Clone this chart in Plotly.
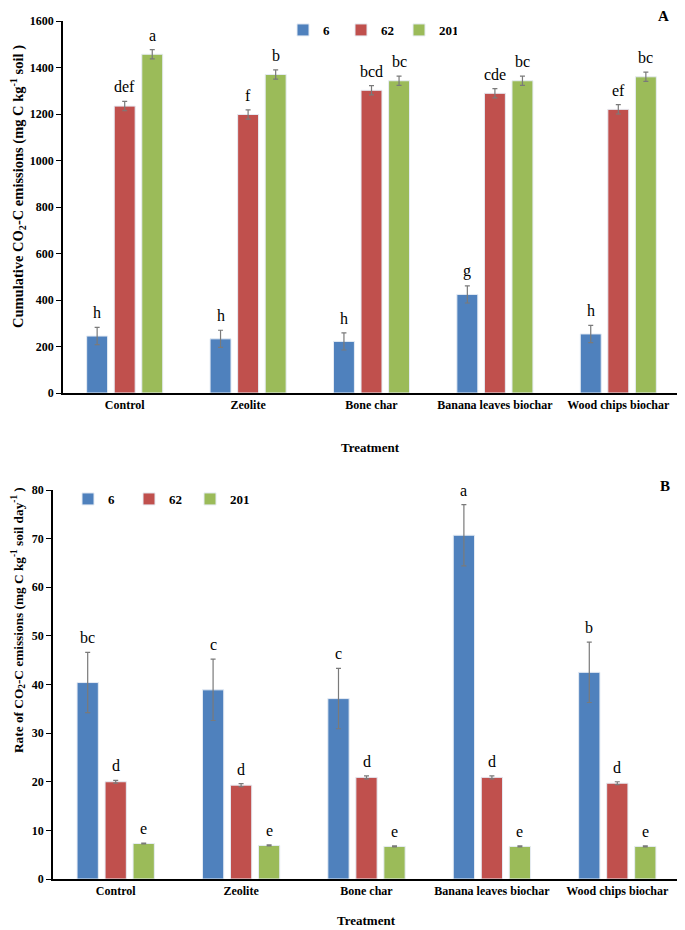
import plotly.graph_objects as go

# Data
treatments = ["Control", "Zeolite", "Bone char", "Banana leaves biochar", "Wood chips biochar"]
days = ["6", "62", "201"]

cum_6 = [245, 233, 222, 424, 254]
cum_62 = [1234, 1198, 1302, 1289, 1220]
cum_201 = [1457, 1370, 1343, 1343, 1360]
cum_err_6 = [37, 37, 37, 37, 37]
cum_err_62 = [20, 20, 20, 20, 20]
cum_err_201 = [20, 20, 20, 20, 20]
cum_letters_6 = ["h", "h", "h", "g", "h"]
cum_letters_62 = ["def", "f", "bcd", "cde", "ef"]
cum_letters_201 = ["a", "b", "bc", "bc", "bc"]

rate_6 = [40.4, 38.9, 37.1, 70.7, 42.5]
rate_62 = [20.0, 19.3, 20.9, 20.9, 19.7]
rate_201 = [7.3, 6.9, 6.7, 6.7, 6.7]
rate_err_6 = [6.2, 6.3, 6.2, 6.3, 6.2]
rate_err_62 = [0.3, 0.3, 0.3, 0.3, 0.3]
rate_err_201 = [0.1, 0.1, 0.1, 0.1, 0.1]
rate_letters_6 = ["bc", "c", "c", "a", "b"]
rate_letters_62 = ["d", "d", "d", "d", "d"]
rate_letters_201 = ["e", "e", "e", "e", "e"]

COLORS = ["#4F81BD", "#C0504D", "#9BBB59"]
ERR_COLOR = "#7a7a7a"
SERIF = "Liberation Serif, Times New Roman, serif"
PAGE_PAD = 8  # the page body margin offsets the figure
W, H = 685 - PAGE_PAD, 930 - PAGE_PAD
BARGAP = 0.33


def px(x):
    return (x - PAGE_PAD) / W


def py(y):
    return 1 - (y - PAGE_PAD) / H


fig = go.Figure()

top_sets = [
    (cum_6, cum_err_6, cum_letters_6),
    (cum_62, cum_err_62, cum_letters_62),
    (cum_201, cum_err_201, cum_letters_201),
]
bot_sets = [
    (rate_6, rate_err_6, rate_letters_6),
    (rate_62, rate_err_62, rate_letters_62),
    (rate_201, rate_err_201, rate_letters_201),
]

slot = (1 - BARGAP) / 3
annotations = []

for sets, xa, ya, leg in [
    (top_sets, "x", "y", "legend"),
    (bot_sets, "x2", "y2", "legend2"),
]:
    for k, (vals, errs, letters) in enumerate(sets):
        fig.add_trace(go.Bar(
            x=treatments, y=vals, name=days[k],
            marker=dict(color=COLORS[k], line=dict(color="#e6ecf4", width=1)),
            error_y=dict(type="data", array=errs, color=ERR_COLOR, thickness=1.2, width=2.5),
            xaxis=xa, yaxis=ya, legend=leg,
        ))
        for i, (v, e, t) in enumerate(zip(vals, errs, letters)):
            annotations.append(dict(
                x=i + (k - 1) * slot, y=v + e, xref=xa, yref=ya,
                text=t, showarrow=False, xanchor="center", yanchor="bottom", yshift=4,
                font=dict(family=SERIF, size=16, color="black"),
            ))

axis_font = dict(family=SERIF, size=12, color="black", weight="bold")
common_x = dict(showline=True, linecolor="black", linewidth=1.5, ticks="",
                tickfont=axis_font, showgrid=False, zeroline=False, automargin=False)
common_y = dict(showline=True, linecolor="black", linewidth=1.5, ticks="outside",
                ticklen=5, tickcolor="black", tickfont=axis_font, showgrid=False,
                zeroline=False, automargin=False)

legend_font = dict(family=SERIF, size=13, color="black", weight="bold")
fig.update_layout(
    width=W, height=H,
    margin=dict(l=0, r=0, t=0, b=0, autoexpand=False),
    paper_bgcolor="white", plot_bgcolor="white",
    barmode="group", bargap=BARGAP, bargroupgap=0.24,
    showlegend=True,
    xaxis=dict(domain=[px(63), px(680)], anchor="y", **common_x),
    yaxis=dict(domain=[py(393), py(21)], anchor="x", range=[0, 1600], dtick=200, **common_y),
    xaxis2=dict(domain=[px(53), px(680)], anchor="y2", **common_x),
    yaxis2=dict(domain=[py(879), py(490)], anchor="x2", range=[0, 80], dtick=10, **common_y),
    legend=dict(orientation="h", x=px(283), y=py(30), xanchor="left", yanchor="middle",
                entrywidth=13, font=legend_font, itemwidth=30, bgcolor="rgba(0,0,0,0)"),
    legend2=dict(orientation="h", x=px(68), y=py(499), xanchor="left", yanchor="middle",
                 entrywidth=16, font=legend_font, itemwidth=30, bgcolor="rgba(0,0,0,0)"),
)


def paper_text(text, x, y, size=13, angle=0):
    return dict(text=text, x=px(x), y=py(y), xref="paper", yref="paper",
                showarrow=False, xanchor="center", yanchor="middle", textangle=angle,
                font=dict(family=SERIF, size=size, color="black"))


annotations += [
    paper_text("<b>A</b>", 663, 16, size=15),
    paper_text("<b>B</b>", 665, 486, size=15),
    paper_text("<b>Treatment</b>", 370, 447),
    paper_text("<b>Treatment</b>", 366, 920),
    paper_text("<b>Cumulative CO<sub>2</sub>-C emissions (mg C kg<sup>-1</sup> soil )</b>",
               18, 187, size=14.5, angle=-90),
    paper_text("<b>Rate of CO<sub>2</sub>-C emissions (mg C kg<sup>-1</sup> soil day<sup>-1</sup> )</b>",
               18, 620, size=13.3, angle=-90),
]
fig.update_layout(annotations=annotations)

fig.write_html("out.html")
